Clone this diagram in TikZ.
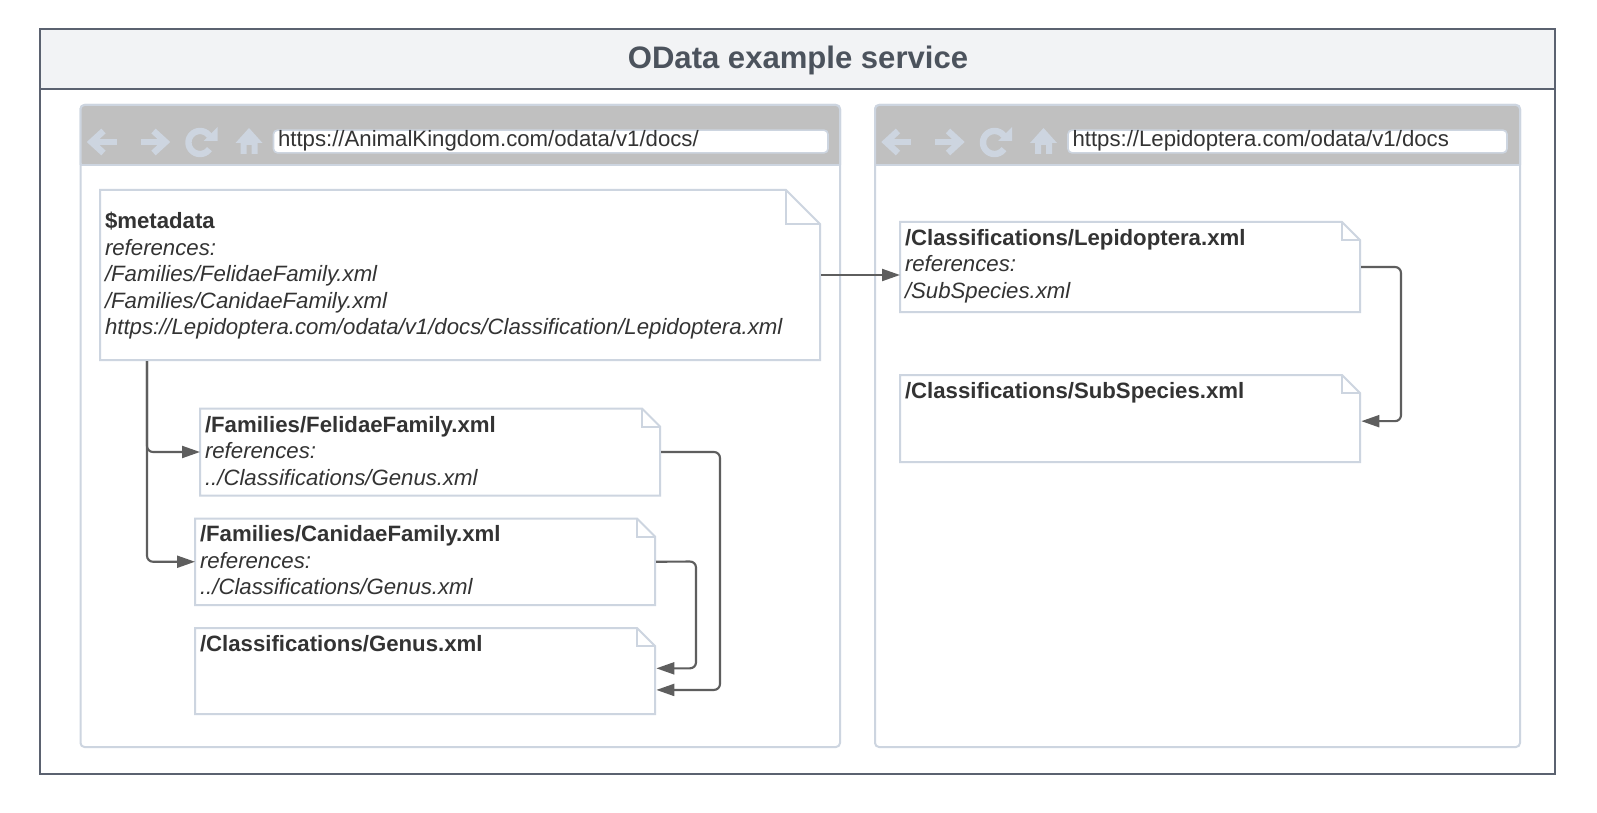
\documentclass[tikz,border=0pt]{standalone}
\usepackage{fontspec}
\setmainfont{Liberation Sans}
\usetikzlibrary{arrows.meta}
\definecolor{frameC}{HTML}{5B6270}
\definecolor{titleC}{HTML}{F2F3F5}
\definecolor{titleT}{HTML}{4C535D}
\definecolor{lineC}{HTML}{CDD5E0}
\definecolor{barC}{HTML}{C0C0C0}
\definecolor{linkC}{HTML}{5E5E5E}
\definecolor{textC}{HTML}{333333}
\newcommand{\docbox}[6]{% name x1 y1 x2 y2 fold
  \pgfmathsetmacro{\dw}{(#4-#2)*0.75}\pgfmathsetmacro{\dh}{(#5-#3)*0.75}
  \pgfmathsetmacro{\dx}{(#2+#4)/2}\pgfmathsetmacro{\dy}{(#3+#5)/2}
  \node[docnode,minimum width=\dw pt,minimum height=\dh pt] (#1) at (\dx,\dy) {};
  \draw[docline] (#2,#3) -- ({#4-#6},#3) -- (#4,{#3+#6}) -- (#4,#5) -- (#2,#5) -- cycle;
  \draw[docline] ({#4-#6},#3) -- ({#4-#6},{#3+#6}) -- (#4,{#3+#6});
}
\newcommand{\browser}[5]{% name x1 x2 urlx2 url
  \draw[docline,fill=white,rounded corners=4*0.75pt] (#2,105) rectangle (#3,747);
  \fill[barC,rounded corners=4*0.75pt] (#2,105) -- (#3,105) -- (#3,165) -- (#2,165) -- cycle;
  \draw[docline,rounded corners=4*0.75pt] (#2,165) -- (#2,105) -- (#3,105) -- (#3,165);
  \draw[docline] (#2,165) -- (#3,165);
  \pgfmathsetmacro{\ox}{#2-80}
  \begin{scope}[xshift=\ox*0.75pt]
    \draw[iconline] (116,142) -- (92,142);
    \draw[iconline] (103,131) -- (91,142) -- (103,153);
    \draw[iconline] (140,142) -- (165,142);
    \draw[iconline] (153,131) -- (165,142) -- (153,153);
    \draw[iconline,line join=miter] plot[domain=-35:-325,samples=30] ({199.5+11.5*cos(\x)},{142.5+11.5*sin(\x)});
    \fill[lineC] (217,127) -- (217,141) -- (203,141) -- cycle;
    \fill[lineC] (248.5,128) -- (262,143) -- (257,143) -- (257,154) -- (251,154) -- (251,145) -- (246,145) -- (246,154) -- (240,154) -- (240,143) -- (235,143) -- cycle;
  \end{scope}
  \pgfmathsetmacro{\ux}{#2+193}
  \pgfmathsetmacro{\uw}{(#4-\ux)*0.75}\pgfmathsetmacro{\ucx}{(#4+\ux)/2}
  \node[urlnode,minimum width=\uw pt] (#1url) at (\ucx,141.5) {};
  \node[txt,anchor=west] (#1text) at (\ux+4.5,141) {#5};
}
\tikzset{
  docnode/.style={inner sep=0pt,outer sep=0pt,draw=none},
  docline/.style={draw=lineC,line width=1.5pt,line join=miter},
  iconline/.style={draw=lineC,line width=4.8pt,line cap=butt,line join=miter},
  urlnode/.style={fill=white,draw=lineC,line width=1.2pt,rounded corners=3pt,minimum height=17pt,inner sep=0pt},
  txt/.style={text=textC,font=\fontsize{16.65pt}{19.9pt}\selectfont,inner sep=0pt,outer sep=0pt,align=left},
  link/.style={draw=linkC,line width=1.6pt,rounded corners=4.5pt,-{Triangle[length=13.5pt,width=9pt]}},
}
\newcommand{\ital}{\itshape}
\begin{document}
\begin{tikzpicture}[x=0.75pt,y=-0.75pt]
\useasboundingbox (0,0) rectangle (1597,813);
\fill[white] (0,0) rectangle (1597,813);
% outer frame
\draw[fill=titleC,draw=frameC,line width=1.5pt] (40,29) rectangle (1555,89);
\draw[draw=frameC,line width=1.5pt] (40,89) rectangle (1555,774);
\node[font=\fontsize{23.3pt}{28pt}\selectfont\bfseries,text=titleT,inner sep=0pt] (title) at (798,60) {OData example service};
% browsers
\browser{left}{80.5}{840}{828}{https://AnimalKingdom.com/odata/v1/docs/}
\browser{right}{875}{1520}{1507}{https://Lepidoptera.com/odata/v1/docs}
% documents
\docbox{meta}{100}{190}{820}{360}{34}
\docbox{lep}{900}{222}{1360}{312}{18}
\docbox{sub}{900}{375}{1360}{462}{18}
\docbox{fel}{200}{408.5}{660}{495.5}{18}
\docbox{can}{195}{518.5}{655}{605}{18}
\docbox{gen}{195}{628}{655}{714}{18}
% texts
\node[txt,anchor=north west] (metaT) at (105,212) {\textbf{\$metadata}\\\ital references:\\\ital /Families/FelidaeFamily.xml\\\ital /Families/CanidaeFamily.xml\\\ital https://Lepidoptera.com/odata/v1/docs/Classification/Lepidoptera.xml};
\node[txt,anchor=north west] (lepT) at (905,229) {\textbf{/Classifications/Lepidoptera.xml}\\\ital references:\\\ital /SubSpecies.xml};
\node[txt,anchor=north west] (subT) at (905,382.5) {\textbf{/Classifications/SubSpecies.xml}};
\node[txt,anchor=north west] (felT) at (205,416) {\textbf{/Families/FelidaeFamily.xml}\\\ital references:\\\ital ../Classifications/Genus.xml};
\node[txt,anchor=north west] (canT) at (200,525.5) {\textbf{/Families/CanidaeFamily.xml}\\\ital references:\\\ital ../Classifications/Genus.xml};
\node[txt,anchor=north west] (genT) at (200,635) {\textbf{/Classifications/Genus.xml}};
% connectors
\coordinate (metaS) at (147,361);
\draw[link] ([xshift=0.75pt]meta.east) -- (meta.east -| lep.west);
\draw[link] (metaS) |- (fel.west);
\draw[link] (metaS) |- (can.west);
\draw[link] ([xshift=0.75pt]lep.east) -- ++(40,0) |- ([xshift=1pt,yshift=-2pt]sub.east);
\draw[link] ([xshift=0.75pt]fel.east) -- (720,452) |- ([xshift=1pt,yshift=-14.2pt]gen.east);
\draw[link] ([xshift=0.75pt]can.east) -- (696,561.5) |- ([xshift=1pt,yshift=2pt]gen.east);
\end{tikzpicture}
\end{document}
